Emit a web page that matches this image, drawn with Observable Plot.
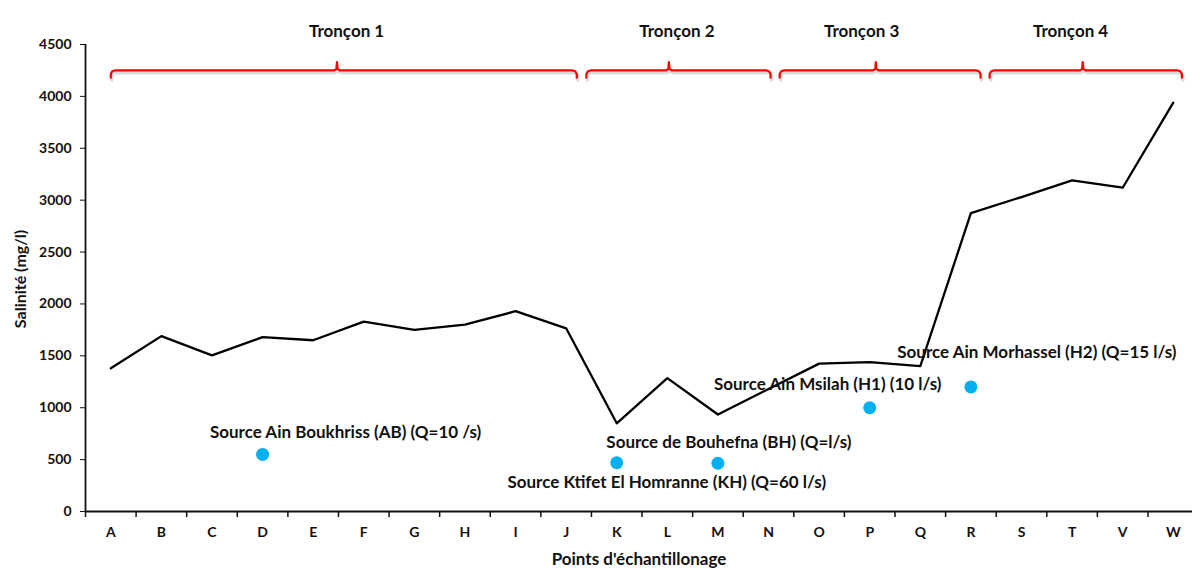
<!DOCTYPE html>
<html>
<head>
<meta charset="utf-8">
<script src="https://cdn.jsdelivr.net/npm/d3@7"></script>
<script src="https://cdn.jsdelivr.net/npm/@observablehq/plot@0.6"></script>
<style>
  html, body { margin: 0; padding: 0; background: #fff; }
</style>
</head>
<body>
<div id="chart"></div>
<script>
// ---- Data ----
const categories = ["A","B","C","D","E","F","G","H","I","J","K","L","M","N","O","P","Q","R","S","T","V","W"];
const salinity = [1380,1690,1505,1680,1650,1830,1750,1800,1930,1765,850,1285,935,1180,1425,1440,1400,2875,3030,3190,3120,3940];

const sourceNames = [
  "Source Ain Boukhriss (AB) (Q=10 /s)",
  "Source Ktifet El Homranne (KH) (Q=60 l/s)",
  "Source de Bouhefna (BH) (Q=l/s)",
  "Source Ain Msilah (H1) (10 l/s)",
  "Source Ain Morhassel (H2) (Q=15 l/s)"
];
const sourceAt = ["D","K","M","P","R"];
const sourceValues = [550,470,465,1000,1200];

const yTicks = [0,500,1000,1500,2000,2500,3000,3500,4000,4500];

const troncons = ["Tronçon 1","Tronçon 2","Tronçon 3","Tronçon 4"];
// ranges of each section, in sampling-point index units
const tronconStart = [0, 9.4, 13.22, 17.37];
const tronconEnd   = [9.21, 13.04, 17.19, 21.17];
const tronconApex  = [4.47, 11.03, 15.12, 19.21];
const tronconLabelAt = [4.66, 11.19, 14.84, 18.97];

// ---- Derived tables ----
const idx = c => categories.indexOf(c);
const series = categories.map((c, i) => ({i, c, v: salinity[i]}));
const sources = sourceNames.map((n, k) => ({name: n, i: idx(sourceAt[k]), v: sourceValues[k]}));

// brace geometry (style): levels in data units
const braceLevel = 4250, braceEnd = 4180, braceTip = 4330;
const braces = [];
troncons.forEach((t, k) => {
  const x0 = tronconStart[k], x1 = tronconEnd[k], xm = tronconApex[k];
  const pts = [
    [x0, braceEnd], [x0, braceLevel - 35], [x0 + 0.03, braceLevel - 8], [x0 + 0.08, braceLevel],
    [xm - 0.06, braceLevel], [xm - 0.01, braceLevel + 15], [xm, braceTip],
    [xm + 0.01, braceLevel + 15], [xm + 0.06, braceLevel],
    [x1 - 0.08, braceLevel], [x1 - 0.03, braceLevel - 8], [x1, braceLevel - 35], [x1, braceEnd]
  ];
  pts.forEach(([x, y]) => braces.push({t, x, y}));
});
const tronconLabels = troncons.map((t, k) => ({t, x: tronconLabelAt[k]}));

const fontStyle = {fontFamily: "Lato, 'Open Sans', sans-serif", fontWeight: "bold"};

function sourceLabel(k, dx, dy) {
  return Plot.text([sources[k]], {x: "i", y: "v", text: "name", dx, dy, fontSize: 17, fontWeight: "bold", fill: "#111"});
}

const chart = Plot.plot({
  width: 1192,
  height: 569,
  marginTop: 44,
  marginBottom: 58,
  marginLeft: 85,
  marginRight: 0,
  style: {...fontStyle, fontSize: "14px", color: "#111", background: "#fff"},
  x: {type: "linear", domain: [-0.5, 21.38]},
  y: {domain: [0, 4500]},
  marks: [
    // axes
    Plot.axisY(yTicks, {tickSize: 5, tickPadding: 9, label: null, tickFormat: d => String(d), fontSize: 14, fontWeight: "bold"}),
    Plot.axisX(d3.range(categories.length), {tickSize: 0, tickPadding: 16, label: null,
      tickFormat: i => categories[i], fontSize: 14, fontWeight: "bold"}),
    Plot.axisX(d3.range(categories.length + 1).map(i => i - 0.5), {tickSize: 6, tickFormat: () => "", label: null, strokeWidth: 1.5}),
    Plot.ruleX([-0.5], {stroke: "#111", strokeWidth: 1.8}),
    Plot.ruleY([0], {stroke: "#111", strokeWidth: 1.8}),
    Plot.text(["Salinité (mg/l)"], {frameAnchor: "left", textAnchor: "middle", lineAnchor: "middle", dx: -65, dy: 1, rotate: -90, fontSize: 16, fontWeight: "bold"}),
    Plot.text(["Points d'échantillonage"], {frameAnchor: "bottom", dy: 53, fontSize: 17, fontWeight: "bold"}),

    // braces (shadow + red)
    Plot.line(braces, {x: "x", y: "y", z: "t", stroke: "#888", strokeOpacity: 0.3, strokeWidth: 3, dy: 2.5, dx: 1, strokeLinejoin: "round"}),
    Plot.line(braces, {x: "x", y: "y", z: "t", stroke: "#ff0000", strokeWidth: 2.2, strokeLinejoin: "round", strokeLinecap: "round"}),
    Plot.text(tronconLabels, {x: "x", text: "t", frameAnchor: "top", dy: -20, fontSize: 17, fontWeight: "bold"}),

    // salinity line
    Plot.line(series, {x: "i", y: "v", stroke: "#000", strokeWidth: 2.3}),

    // sources
    Plot.dot(sources, {x: "i", y: "v", r: 6.5, fill: "#00b0f0", stroke: null}),
    sourceLabel(0, 83, -22),
    sourceLabel(1, 50, 20),
    sourceLabel(2, 11, -21),
    sourceLabel(3, -42, -23),
    sourceLabel(4, 66, -34)
  ]
});
document.getElementById("chart").appendChild(chart);
</script>
</body>
</html>
